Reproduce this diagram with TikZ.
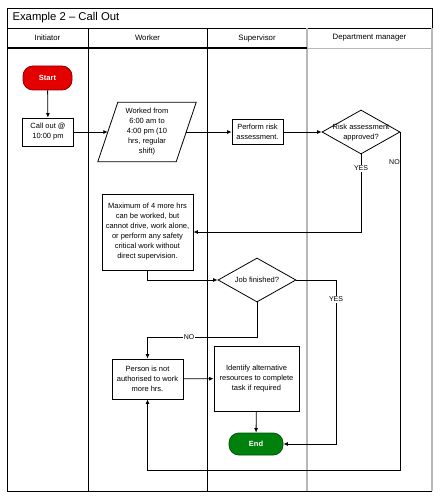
\documentclass[tikz,border=0pt]{standalone}
\usepackage{fontspec}
\setmainfont{Liberation Sans}
\usetikzlibrary{shapes.geometric,arrows.meta}

\definecolor{startred}{rgb}{0.9,0,0}
\definecolor{startline}{rgb}{0.55,0,0}
\definecolor{endgreen}{rgb}{0,0.5,0.05}
\definecolor{endline}{rgb}{0,0.33,0}
\definecolor{lanegray}{rgb}{0.72,0.72,0.72}

\begin{document}
\begin{tikzpicture}[x=1pt,y=-1pt,
    font=\fontsize{7.5}{10}\selectfont,
    box/.style={draw, line width=0.8pt, fill=white, align=center, inner sep=1pt},
    terminal/.style={draw, line width=0.8pt, rounded corners=10pt, text=white,
      font=\fontsize{7.5}{9}\selectfont\bfseries},
    decision/.style={draw, line width=0.8pt, diamond, inner sep=0pt,
      minimum width=78pt, minimum height=44pt},
    flow/.style={line width=0.8pt, -{Latex[length=4.5pt,width=4pt]}},
    lbl/.style={fill=white, inner sep=1pt, font=\fontsize{7}{8}\selectfont}]
    \useasboundingbox (0,0) rectangle (440,500);

    % frame and lanes
    \draw[line width=0.8pt] (7,8) rectangle (432,28);
    \draw[line width=0.8pt] (7,28) -- (7,491) -- (432,491);
    \draw[line width=0.8pt] (88,28) -- (88,491);
    \draw[line width=0.8pt] (207,28) -- (207,491);
    \draw[lanegray, line width=1.2pt] (307,28) -- (307,491);
    \draw[lanegray, line width=1.2pt] (432,28) -- (432,491);
    \draw[line width=1.4pt] (7,48) -- (307,48);
    \draw[lanegray, line width=0.8pt] (307,48) -- (432,48);

    \node[anchor=west, font=\fontsize{11.3}{13}\selectfont] (title) at (9,18) {Example 2 – Call Out};
    \node[font=\fontsize{7.8}{9}\selectfont] (hinit) at (47.5,38) {Initiator};
    \node[font=\fontsize{7.8}{9}\selectfont] (hwork) at (147.5,38) {Worker};
    \node[font=\fontsize{7.8}{9}\selectfont] (hsup) at (257,38) {Supervisor};
    \node[font=\fontsize{7.8}{9}\selectfont] (hdep) at (369.5,38) {Department manager};

    % steps
    \node[terminal, fill=startred, draw=startline, minimum width=49pt, minimum height=24pt] (start) at (47.5,78) {Start};
    \node[box, minimum width=51pt, minimum height=28pt] (call) at (48,132) {Call out @\\10:00 pm};
    \node[align=center, inner sep=0pt, minimum width=78pt, minimum height=59pt] (work) at (147,132)
      {Worked from\\6:00 am to\\4:00 pm (10\\hrs, regular\\shift)};
    \draw[line width=0.8pt] ([xshift=10pt]work.north west) -- ([xshift=10pt]work.north east)
      -- ([xshift=-10pt]work.south east) -- ([xshift=-10pt]work.south west) -- cycle;
    \node[box, minimum width=51pt, minimum height=25pt] (perform) at (257.5,132) {Perform risk\\assessment.};
    \node[decision] (risk) at (361,132) {};
    \node[align=center, inner sep=0pt] (risktext) at (361,133) {Risk assessment\\approved?};

    \node[box, minimum width=91pt, minimum height=76pt] (max) at (147.5,232)
      {Maximum of 4 more hrs\\can be worked, but\\cannot drive, work alone,\\or perform any safety\\critical work without\\direct supervision.};
    \node[decision] (job) at (257,280) {};
    \node[inner sep=0pt] (jobtext) at (257,280) {Job finished?};

    \node[box, minimum width=71pt, minimum height=40pt] (person) at (147.5,379)
      {Person is not\\authorised to work\\more hrs.};
    \node[box, minimum width=85pt, minimum height=65pt] (ident) at (256.5,378.5)
      {Identify alternative\\resources to complete\\task if required};
    \node[terminal, fill=endgreen, draw=endline, minimum width=54pt, minimum height=22pt] (end) at (256,444) {End};

    \coordinate (bottomrun) at (0,470);
    \coordinate (yescol) at (336,0);

    % connectors
    \draw[flow] (start) -- (call);
    \draw[flow] (call) -- (work);
    \draw[flow] (work) -- (perform);
    \draw[flow] (perform) -- (risk);
    \draw[flow] (risk.south) |- node[lbl, pos=0.09] {YES} (max.east);
    \draw[flow] (risk.east) -- node[lbl, pos=0.09, anchor=east, fill=none, inner sep=0.3pt] {NO}
      (risk.east |- bottomrun) -| (person.south);
    \draw[flow] (max.south) |- (job.west);
    \draw[flow] (job.east) -- (job.east -| yescol) |- node[lbl, pos=0.058] {YES} (end.east);
    \draw[flow] (job.south) -- ++(0,35) -| node[lbl, pos=0.31] {NO} (person.north);
    \draw[flow] (person) -- (ident);
    \draw[flow] (ident) -- (end);
\end{tikzpicture}
\end{document}
